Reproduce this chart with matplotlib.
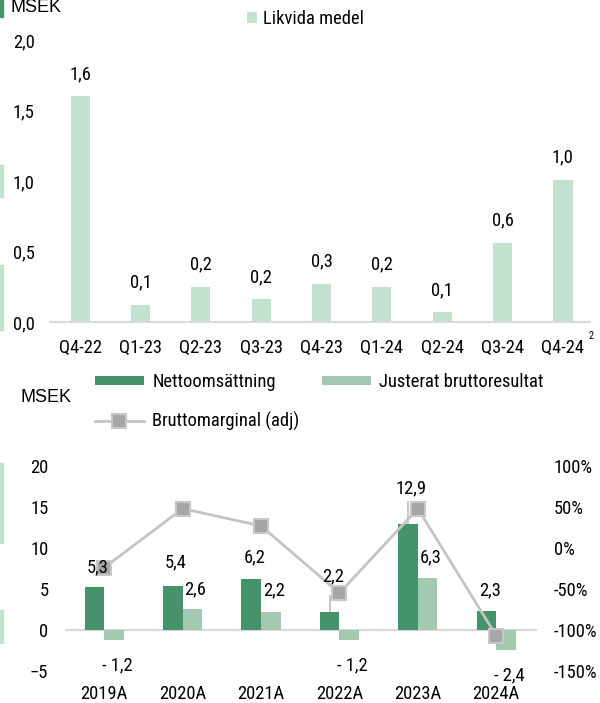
import matplotlib
matplotlib.use("Agg")
import matplotlib.pyplot as plt
from matplotlib.patches import Rectangle
from matplotlib import font_manager as fm
import numpy as np

# ---------------- data ----------------
quarters = ["Q4-22", "Q1-23", "Q2-23", "Q3-23", "Q4-23", "Q1-24", "Q2-24", "Q3-24", "Q4-24"]
likvida = [1.60, 0.12, 0.25, 0.16, 0.27, 0.25, 0.07, 0.56, 1.01]
likvida_labels = ["1,6", "0,1", "0,2", "0,2", "0,3", "0,2", "0,1", "0,6", "1,0"]

years = ["2019A", "2020A", "2021A", "2022A", "2023A", "2024A"]
netto = [5.3, 5.4, 6.2, 2.2, 12.9, 2.3]
justerat = [-1.2, 2.6, 2.2, -1.2, 6.3, -2.4]
marginal = [-24, 48, 27, -55, 48, -107]
netto_labels = ["5,3", "5,4", "6,2", "2,2", "12,9", "2,3"]
justerat_labels = ["- 1,2", "2,6", "2,2", "- 1,2", "6,3", "- 2,4"]

# label placement (layout, in left-axis data units)
netto_label_y = [7.6, 8.2, 8.8, 6.6, 17.3, 4.8]
justerat_label_y = [-4.3, 4.9, 4.8, -4.3, 8.8, -5.5]

# ---------------- style ----------------
avail = {f.name for f in fm.fontManager.ttflist}
fam = [f for f in ["Liberation Sans Narrow", "Roboto Condensed", "Liberation Sans"] if f in avail] + ["DejaVu Sans"]
plt.rcParams["font.family"] = fam
FS = 13.3
WIDE = ["Liberation Sans", "DejaVu Sans"]

C_TOP = "#c3e1cf"
C_DARK = "#46926a"
C_LIGHT = "#a3c9b2"
C_AXIS = "#d9d9d9"
C_LINE = "#c4c4c4"

W, H = 600, 703
fig = plt.figure(figsize=(W / 100, H / 100), dpi=100)


def fx(px):
    return px / W


def fy(py):
    return 1 - py / H


# ---------------- top chart ----------------
ax1 = fig.add_axes([fx(50), fy(322), fx(590) - fx(50), fy(40) - fy(322)])
x1 = np.arange(len(quarters))
bars1 = ax1.bar(x1, likvida, width=0.32, color=C_TOP, label="Likvida medel", zorder=2)
for xi, v, lab in zip(x1, likvida, likvida_labels):
    ax1.annotate(lab, (xi, v), xytext=(0, 16), textcoords="offset points",
                 ha="center", va="center", fontsize=FS)
ax1.set_xlim(-0.5, 8.45)
ax1.set_ylim(0, 2.0)
ax1.set_yticks([0, 0.5, 1.0, 1.5, 2.0])
ax1.set_yticklabels(["0,0", "0,5", "1,0", "1,5", "2,0"])
ax1.set_xticks(x1)
ax1.set_xticklabels(quarters)
for s in ["top", "right", "left"]:
    ax1.spines[s].set_visible(False)
ax1.spines["bottom"].set_color(C_AXIS)
ax1.spines["bottom"].set_linewidth(1.5)
ax1.tick_params(axis="both", length=0, labelsize=FS)
ax1.tick_params(axis="x", pad=12)
ax1.tick_params(axis="y", pad=11)

fig.legend(handles=[bars1], loc="center left", bbox_to_anchor=(fx(247), fy(19)),
           frameon=False, fontsize=FS, borderpad=0, borderaxespad=0,
           handlelength=0.52, handleheight=0.52, handletextpad=0.35)
fig.text(fx(11), fy(8), "MSEK", fontsize=13, ha="left", va="center", family=WIDE)
fig.text(fx(589), fy(336), "2", fontsize=7.5, ha="left", va="center")

# ---------------- bottom chart ----------------
ax2 = fig.add_axes([fx(65), fy(671), fx(537) - fx(65), fy(466) - fy(671)])
x2 = np.arange(len(years))
bw = 0.25
b_net = ax2.bar(x2 - bw / 2, netto, width=bw, color=C_DARK, label="Nettoomsättning", zorder=2)
b_jus = ax2.bar(x2 + bw / 2, justerat, width=bw, color=C_LIGHT, label="Justerat bruttoresultat", zorder=2)
ax2.axhline(0, color=C_AXIS, lw=1.5, zorder=1)

# leader lines for some labels
ax2.plot([x2[3] - bw / 2] * 2, [netto[3], 4.1], color=C_LINE, lw=1.3, zorder=1.5)
ax2.plot([x2[4] - bw / 2] * 2, [netto[4], 15.6], color=C_LINE, lw=1.3, zorder=1.5)

ax2.set_xlim(-0.5, 5.52)
ax2.set_ylim(-5, 20)
ax2.set_yticks([-5, 0, 5, 10, 15, 20])
ax2.set_xticks(x2)
ax2.set_xticklabels(years)
for s in ax2.spines.values():
    s.set_visible(False)
ax2.tick_params(axis="both", length=0, labelsize=FS)
ax2.tick_params(axis="x", pad=10)
ax2.tick_params(axis="y", pad=12)

ax3 = ax2.twinx()
ln, = ax3.plot(x2, marginal, color=C_LINE, lw=2.0, marker="s", markersize=10.5,
               markerfacecolor="#a6a6a6", markeredgecolor="#c8c8c8", markeredgewidth=1.5,
               label="Bruttomarginal (adj)", zorder=3)
ax3.set_ylim(-150, 100)
ax3.set_yticks([-150, -100, -50, 0, 50, 100])
ax3.set_yticklabels([f"{v}%" for v in [-150, -100, -50, 0, 50, 100]])
for s in ax3.spines.values():
    s.set_visible(False)
ax3.tick_params(axis="both", length=0, labelsize=FS, pad=12)

# data labels drawn on top of the line (in left-axis data coordinates)
for xi, ly, lab in zip(x2 - bw / 2, netto_label_y, netto_labels):
    ax3.text(xi + 0.04, ly, lab, ha="center", va="center", fontsize=FS, zorder=5,
             transform=ax2.transData)
for xi, ly, lab in zip(x2 + bw / 2, justerat_label_y, justerat_labels):
    ax3.text(xi + 0.04, ly, lab, ha="center", va="center", fontsize=FS, zorder=5,
             transform=ax2.transData)

fig.legend(handles=[b_net, ln, b_jus], loc="center left", ncol=2,
           bbox_to_anchor=(fx(95), fy(402)), frameon=False, fontsize=FS,
           borderpad=0, borderaxespad=0, handlelength=2.65, handleheight=0.38,
           handletextpad=0.45, labelspacing=1.15, columnspacing=1.2)
fig.text(fx(20), fy(397), "MSEK", fontsize=13, ha="left", va="center", family=WIDE)

# ---------------- left-edge fragments ----------------
for (y0, y1, c) in [(0, 17, C_DARK), (165, 197, C_TOP), (265, 330, C_TOP),
                    (463, 543, C_TOP), (610, 643, C_TOP)]:
    fig.patches.append(Rectangle((0, fy(y1)), fx(3), fy(y0) - fy(y1),
                                 transform=fig.transFigure, color=c, zorder=0))

fig.savefig("out.png", dpi=100)
